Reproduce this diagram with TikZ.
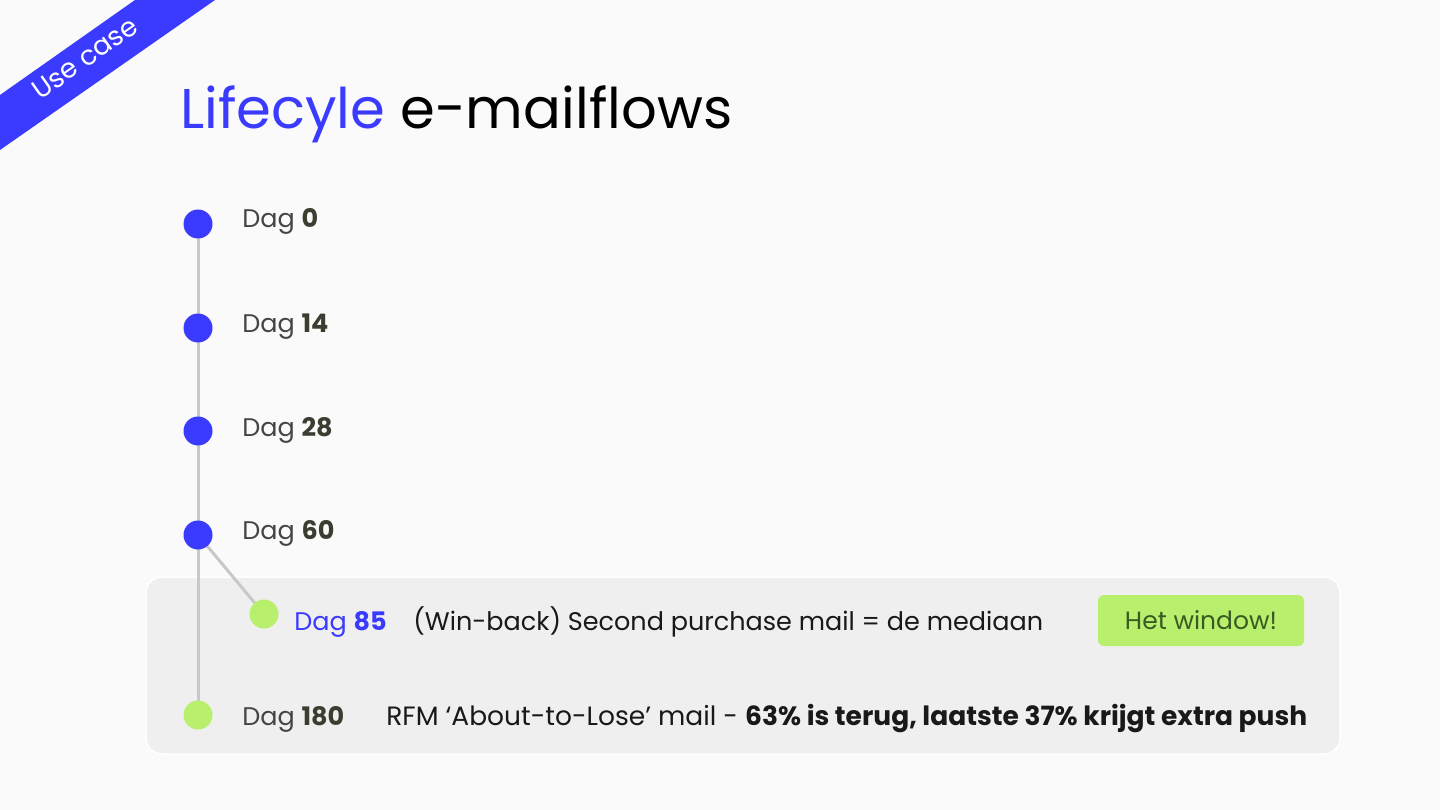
\documentclass[tikz,border=0pt]{standalone}
\usepackage{fontspec}
\setmainfont{Poppins}
\usepackage{xcolor}
\usetikzlibrary{positioning}

\definecolor{pagebg}{HTML}{FAFAFA}
\definecolor{panelbg}{HTML}{EFEFEF}
\definecolor{brandblue}{HTML}{3B3BFF}
\definecolor{limegreen}{HTML}{B8F06E}
\definecolor{linegray}{HTML}{C8C8C8}
\definecolor{daygray}{HTML}{454545}
\definecolor{daynum}{HTML}{3C3C30}
\definecolor{btntext}{HTML}{3A5A22}

\begin{document}
\begin{tikzpicture}[x=1pt,y=-1pt,semithick]
    \tikzstyle{bluedot}=[circle,fill=brandblue,minimum size=29pt,inner sep=0pt]
    \tikzstyle{greendot}=[circle,fill=limegreen,minimum size=29pt,inner sep=0pt]
    \tikzstyle{daylabel}=[anchor=base west,inner sep=0pt,text=daygray,font=\fontsize{25.5}{30}\selectfont]
    \tikzstyle{mailtext}=[anchor=base west,inner sep=0pt,text=black!90,font=\fontsize{25.5}{30}\selectfont]
    \tikzstyle{stem}=[draw=linegray,line width=3pt]

    % background and margins
    \fill[pagebg] (0,0) rectangle (1440,810);
    \useasboundingbox (0,0) rectangle (1440,810);

    % ribbon
    \fill[brandblue] (0,95) -- (135,0) -- (215,0) -- (0,150) -- cycle;
    \node[text=white,rotate=35,inner sep=0pt,font=\fontsize{27}{30}\selectfont] (ribbon) at (85,58) {Use case};

    % title
    \node[anchor=base west,inner sep=0pt,font=\fontsize{56}{62}\selectfont] (title) at (180,129)
        {\textcolor{brandblue}{Lifecyle} e-mailflows};

    % panel
    \draw[fill=panelbg,draw=white,line width=1.5pt,rounded corners=16pt] (146,577) rectangle (1340,754);

    % timeline
    \coordinate (d0) at (198,224);
    \coordinate (d14) at (198,328);
    \coordinate (d28) at (198,431);
    \coordinate (d60) at (198,535);
    \coordinate (d85) at (264,614);
    \coordinate (d180) at (198,715);

    \path[stem] (d0) -- (d14) -- (d28) -- (d60) -- (d180);
    \path[stem] (d60) -- (d85);
    \foreach \n in {d0,d14,d28,d60}
        \node[bluedot] (dot-\n) at (\n) {};
    \foreach \n in {d85,d180}
        \node[greendot] (dot-\n) at (\n) {};

    % labels
    \node[daylabel] (l0) at (242,228) {Dag \textbf{\textcolor{daynum}{0}}};
    \node[daylabel] (l14) at (242,332) {Dag \textbf{\textcolor{daynum}{14}}};
    \node[daylabel] (l28) at (242,436) {Dag \textbf{\textcolor{daynum}{28}}};
    \node[daylabel] (l60) at (242,539) {Dag \textbf{\textcolor{daynum}{60}}};
    \node[daylabel,text=brandblue] (l85) at (294,630) {Dag \textbf{85}};
    \node[daylabel] (l180) at (242,725) {Dag \textbf{\textcolor{daynum}{180}}};

    \node[mailtext] (m85) at (413,630) {(Win-back) Second purchase mail = de mediaan};
    \node[mailtext,font=\fontsize{26.5}{30}\selectfont] (m180) at (386,725) {RFM ‘About-to-Lose’ mail - \textbf{63\% is terug, laatste 37\% krijgt extra push}};

    % button
    \fill[limegreen,rounded corners=6pt] (1098,595) rectangle (1304,646);
    \node[text=btntext,font=\fontsize{25}{28}\selectfont] (window) at (1201,620.5) {Het window!};
\end{tikzpicture}
\end{document}
